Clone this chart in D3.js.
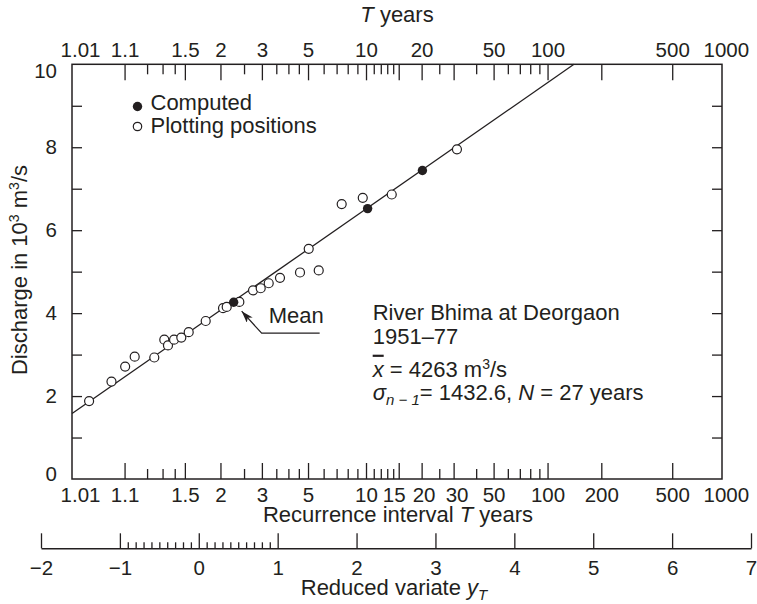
<!DOCTYPE html>
<html><head><meta charset="utf-8">
<script src="https://cdn.jsdelivr.net/npm/d3@7"></script>
<style>
body{margin:0;background:#fff}
text{font-family:"Liberation Sans",Arial,Helvetica,sans-serif;fill:#231f20}
</style>
</head><body>
<svg id="c" width="757" height="604"></svg>
<script>
// ---------- data ----------
const plotT = [1.023, 1.062, 1.102, 1.139, 1.243, 1.313, 1.342, 1.394, 1.463, 1.542, 1.761, 2.047, 2.117, 2.387, 2.737, 2.963, 3.225, 3.644, 4.560, 5.663, 5.040, 7.44, 9.61, 13.75, 31.3];
const plotQ = [1.88, 2.35, 2.71, 2.95, 2.93, 3.36, 3.22, 3.36, 3.41, 3.54, 3.81, 4.12, 4.15, 4.27, 4.55, 4.60, 4.72, 4.85, 4.98, 5.03, 5.55, 6.63, 6.78, 6.86, 7.95];
const compT = [2.26, 10.2, 20.2];
const compQ = [4.263, 6.52, 7.44];
const lineT = [1.0089, 140.6];
const lineQ = [1.58, 10];
const tMajor = [1.1, 1.5, 2, 3, 5, 10, 15, 20, 30, 50, 100, 200, 500];
const tMinor = [1.2, 1.3, 1.4, 2.5, 3.5, 4, 4.5, 6, 7, 8, 9, 11, 12, 13, 14, 25, 40, 60, 70, 80, 90];
const bottomLabels = [1.01, 1.1, 1.5, 2, 3, 5, 10, 15, 20, 30, 50, 100, 200, 500, 1000];
const topLabels = [1.01, 1.1, 1.5, 2, 3, 5, 10, 20, 50, 100, 500, 1000];
const qTicks = [1, 2, 3, 4, 5, 6, 7, 8, 9];
const qLabels = [0, 2, 4, 6, 8, 10];
const rvMajor = [-2, -1, 0, 1, 2, 3, 4, 5, 6, 7];
const rvMinor = [-0.9, -0.8, -0.7, -0.6, -0.5, -0.4, -0.3, -0.2, -0.1, 0.1, 0.2, 0.3, 0.4, 0.5, 0.6, 0.7, 0.8, 0.9];

// ---------- scales ----------
const rv = T => -Math.log(-Math.log(1 - 1 / T));   // Gumbel reduced variate
const L = 72, R = 722, TOP = 64.3, BOT = 479;
const x = d3.scaleLinear().domain([-1.555, 6.858]).range([L, R]);  // plot extent in reduced variate
const X = T => x(rv(T));
const y = d3.scaleLinear().domain([0, 10]).range([BOT, TOP]);
const xr = d3.scaleLinear().domain([-2, 7]).range([41, 751]);

const svg = d3.select("#c");
svg.append("rect").attr("width", 757).attr("height", 604).attr("fill", "#fff");
const INK = "#231f20";
const NUM = "20.5px", WORD = "22px";

function styleAxis(g) {
  g.select(".domain").remove();
  g.selectAll(".tick line").attr("stroke", INK).attr("stroke-width", 1.3);
  g.selectAll("text").attr("fill", INK).style("font-size", NUM)
    .style("font-family", '"Liberation Sans",Arial,sans-serif');
}
const nudgeB = {1.01: 6, 15: -5, 20: 2, 30: 3};
const nudgeT = {1.01: 6};

// bottom T axis
svg.append("g").attr("transform", `translate(0,${BOT})`)
  .call(d3.axisBottom(x).tickValues(tMajor.map(rv)).tickSize(-16).tickFormat(""))
  .call(styleAxis);
svg.append("g").attr("transform", `translate(0,${BOT})`)
  .call(d3.axisBottom(x).tickValues(tMinor.map(rv)).tickSize(-10).tickFormat(""))
  .call(styleAxis);
svg.append("g").attr("transform", `translate(0,${BOT})`)
  .call(d3.axisBottom(x).tickValues(bottomLabels.map(rv)).tickSize(0).tickPadding(8)
    .tickFormat((d, i) => String(bottomLabels[i])))
  .call(styleAxis)
  .selectAll(".tick text").attr("dx", (d, i) => nudgeB[bottomLabels[i]] || 0);

// top T axis
svg.append("g").attr("transform", `translate(0,${TOP})`)
  .call(d3.axisTop(x).tickValues(tMajor.map(rv)).tickSize(-16).tickFormat(""))
  .call(styleAxis);
svg.append("g").attr("transform", `translate(0,${TOP})`)
  .call(d3.axisTop(x).tickValues(tMinor.map(rv)).tickSize(-10).tickFormat(""))
  .call(styleAxis);
svg.append("g").attr("transform", `translate(0,${TOP})`)
  .call(d3.axisTop(x).tickValues(topLabels.map(rv)).tickSize(0).tickPadding(7)
    .tickFormat((d, i) => String(topLabels[i])))
  .call(styleAxis)
  .selectAll(".tick text").attr("dx", (d, i) => nudgeT[topLabels[i]] || 0);

// left / right discharge axes
svg.append("g").attr("transform", `translate(${L},0)`)
  .call(d3.axisLeft(y).tickValues(qTicks).tickSize(-10).tickFormat(""))
  .call(styleAxis);
svg.append("g").attr("transform", `translate(${L},0)`)
  .call(d3.axisLeft(y).tickValues(qLabels).tickSize(0).tickPadding(15).tickFormat(d3.format("d")))
  .call(styleAxis)
  .selectAll(".tick text").attr("dy", d => d === 10 ? "0.62em" : d === 0 ? "0.05em" : "0.32em");
svg.append("g").attr("transform", `translate(${R},0)`)
  .call(d3.axisRight(y).tickValues(qTicks).tickSize(-10).tickFormat(""))
  .call(styleAxis);

// plot frame
svg.append("rect").attr("x", L).attr("y", TOP).attr("width", R - L).attr("height", BOT - TOP)
  .attr("fill", "none").attr("stroke", INK).attr("stroke-width", 1.5);

// reduced variate axis
const RVY = 548.3;
const gr = svg.append("g").attr("transform", `translate(0,${RVY})`)
  .call(d3.axisBottom(xr).tickValues(rvMajor).tickSize(-15).tickSizeOuter(0).tickPadding(12)
    .tickFormat(d => d < 0 ? "\u2212" + Math.abs(d) : String(d)));
gr.select(".domain").attr("stroke", INK).attr("stroke-width", 1.5);
gr.selectAll(".tick line").attr("stroke", INK).attr("stroke-width", 1.3);
gr.selectAll("text").attr("fill", INK).style("font-size", NUM)
  .style("font-family", '"Liberation Sans",Arial,sans-serif');
svg.append("g").attr("transform", `translate(0,${RVY})`)
  .call(d3.axisBottom(xr).tickValues(rvMinor).tickSize(-6).tickFormat(""))
  .call(styleAxis);

// fitted line
svg.append("path")
  .datum(lineT.map((t, i) => [t, lineQ[i]]))
  .attr("d", d3.line().x(d => X(d[0])).y(d => y(d[1])))
  .attr("fill", "none").attr("stroke", INK).attr("stroke-width", 1.3);

// plotting positions (open)
svg.append("g").selectAll("circle")
  .data(plotT.map((t, i) => [t, plotQ[i]]))
  .join("circle")
  .attr("cx", d => X(d[0])).attr("cy", d => y(d[1])).attr("r", 4.5)
  .attr("fill", "#fff").attr("stroke", INK).attr("stroke-width", 1.2);

// computed (filled)
svg.append("g").selectAll("circle")
  .data(compT.map((t, i) => [t, compQ[i]]))
  .join("circle")
  .attr("cx", d => X(d[0])).attr("cy", d => y(d[1])).attr("r", 4.7)
  .attr("fill", INK);

// Mean annotation
const mx = X(compT[0]), my = y(compQ[0]);
const defs = svg.append("defs");
defs.append("marker").attr("id", "ah").attr("viewBox", "0 0 12 8")
  .attr("refX", 12).attr("refY", 4).attr("markerWidth", 12).attr("markerHeight", 8)
  .attr("markerUnits", "userSpaceOnUse").attr("orient", "auto")
  .append("path").attr("d", "M0,0 L12,4 L0,8 L3,4 Z").attr("fill", INK);
svg.append("path")
  .attr("d", `M${mx + 86},${my + 31} L${mx + 28},${my + 31} L${mx + 8},${my + 9}`)
  .attr("fill", "none").attr("stroke", INK).attr("stroke-width", 1.2)
  .attr("marker-end", "url(#ah)");
svg.append("text").attr("x", mx + 35).attr("y", my + 21).style("font-size", WORD).text("Mean");

// legend
svg.append("circle").attr("cx", 137.5).attr("cy", 106.5).attr("r", 4.7).attr("fill", INK);
svg.append("text").attr("x", 150.5).attr("y", 110).style("font-size", WORD).text("Computed");
svg.append("circle").attr("cx", 137.5).attr("cy", 126.5).attr("r", 4.2)
  .attr("fill", "#fff").attr("stroke", INK).attr("stroke-width", 1.2);
svg.append("text").attr("x", 150.5).attr("y", 133.3).style("font-size", WORD).text("Plotting positions");

// info block
const ix = 372.7;
svg.append("text").attr("x", ix).attr("y", 320).style("font-size", WORD).text("River Bhima at Deorgaon");
svg.append("text").attr("x", ix).attr("y", 344).style("font-size", WORD).text("1951\u201377");
const t3 = svg.append("text").attr("x", ix).attr("y", 376.7).style("font-size", WORD);
t3.append("tspan").style("font-style", "italic").style("text-decoration", "overline").text("x");
t3.append("tspan").text(" = 4263 m");
t3.append("tspan").attr("dy", -8).style("font-size", "14px").text("3");
t3.append("tspan").attr("dy", 8).text("/s");
const t4 = svg.append("text").attr("x", ix).attr("y", 400).style("font-size", WORD);
t4.append("tspan").style("font-style", "italic").text("\u03c3");
t4.append("tspan").attr("dy", 5).style("font-size", "15px").style("font-style", "italic").text("n \u2212 1");
t4.append("tspan").attr("dy", -5).text("= 1432.6, ");
t4.append("tspan").style("font-style", "italic").text("N");
t4.append("tspan").text(" = 27 years");

// axis titles
const tt = svg.append("text").attr("x", 397).attr("y", 22).attr("text-anchor", "middle").style("font-size", WORD);
tt.append("tspan").style("font-style", "italic").text("T");
tt.append("tspan").text(" years");

const bt = svg.append("text").attr("x", 398).attr("y", 521.7).attr("text-anchor", "middle").style("font-size", WORD);
bt.append("tspan").text("Recurrence interval ");
bt.append("tspan").style("font-style", "italic").text("T");
bt.append("tspan").text(" years");

const rt = svg.append("text").attr("x", 394).attr("y", 595).attr("text-anchor", "middle").style("font-size", WORD);
rt.append("tspan").text("Reduced variate ");
rt.append("tspan").style("font-style", "italic").text("y");
rt.append("tspan").attr("dy", 5).style("font-size", "15px").style("font-style", "italic").text("T");

const yt = svg.append("text").attr("transform", "translate(27,270) rotate(-90)")
  .attr("text-anchor", "middle").style("font-size", WORD);
yt.append("tspan").text("Discharge in 10");
yt.append("tspan").attr("dy", -8).style("font-size", "14px").text("3");
yt.append("tspan").attr("dy", 8).text(" m");
yt.append("tspan").attr("dy", -8).style("font-size", "14px").text("3");
yt.append("tspan").attr("dy", 8).text("/s");
</script>
</body></html>
